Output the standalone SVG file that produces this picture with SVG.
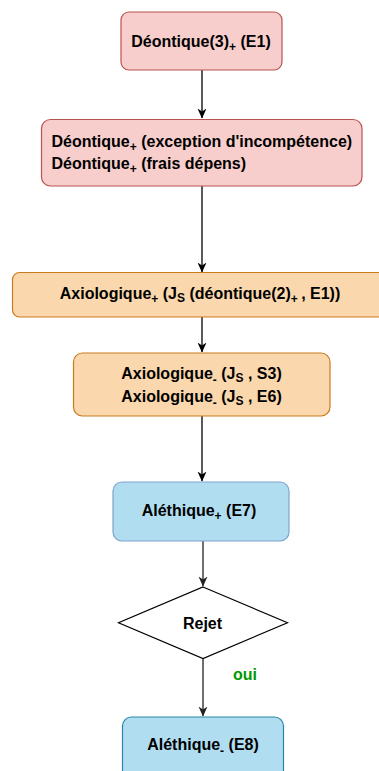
<svg xmlns="http://www.w3.org/2000/svg" width="379" height="771" viewBox="0 0 379 771">
<defs>
<marker id="arrk" viewBox="0 0 10 10" refX="9.5" refY="5" markerWidth="10" markerHeight="10" markerUnits="userSpaceOnUse" orient="auto">
<path d="M0,0.5 L10,5 L0,9.5 L3,5 z" fill="#000"/>
</marker>
<marker id="arrg" viewBox="0 0 10 10" refX="9.5" refY="5" markerWidth="10" markerHeight="10" markerUnits="userSpaceOnUse" orient="auto">
<path d="M0,0.5 L10,5 L0,9.5 L3,5 z" fill="#222"/>
</marker>
</defs>
<style>
text{font-family:"Liberation Sans",Arial,Helvetica,sans-serif;font-weight:bold;font-size:16px;fill:#000}
.sub{font-size:12px}
.red{fill:#f8cecc;stroke:#b85450;stroke-width:1.2}
.orange{fill:#fad7ac;stroke:#c87c1d;stroke-width:1.2}
.blue1{fill:#b1ddf0;stroke:#7ea3d0;stroke-width:1.2}
.blue2{fill:#b1ddf0;stroke:#2a83a8;stroke-width:1.2}
.dia{fill:#fff;stroke:#000;stroke-width:1.2}
.c{stroke:#000;stroke-width:1.3;fill:none;marker-end:url(#arrk)}
.c2{stroke:#222;stroke-width:1.3;fill:none;marker-end:url(#arrg)}
</style>
<g id="connectors">
<path class="c" d="M202,70 V118"/>
<path class="c" d="M202,186 V272"/>
<path class="c" d="M202,317 V352"/>
<path class="c" d="M202,416 V481"/>
<path class="c2" d="M203,541 V586"/>
<path class="c2" d="M203,658.5 V716"/>
</g>
<g id="n1">
<rect class="red" x="121" y="12" width="161" height="58" rx="8"/>
<text x="201" y="46.5" text-anchor="middle">Déontique(3)<tspan class="sub" dy="4">+</tspan><tspan dy="-4">  (E1)</tspan></text>
</g>
<g id="n2">
<rect class="red" x="41.5" y="119.5" width="320.5" height="66.5" rx="9"/>
<text x="51.5" y="147">Déontique<tspan class="sub" dy="4">+</tspan><tspan dy="-4"> (exception d'incompétence)</tspan></text>
<text x="51.5" y="168.5">Déontique<tspan class="sub" dy="4">+</tspan><tspan dy="-4"> (frais dépens)</tspan></text>
</g>
<g id="n3">
<rect class="orange" x="12.5" y="272.5" width="380" height="44.5" rx="7"/>
<text x="200" y="299" text-anchor="middle">Axiologique<tspan class="sub" dy="4">+</tspan><tspan dy="-4"> (J</tspan><tspan class="sub" dy="3">S</tspan><tspan dy="-3"> (déontique(2)</tspan><tspan class="sub" dy="4">+ </tspan><tspan dy="-4">, E1))</tspan></text>
</g>
<g id="n4">
<rect class="orange" x="73.5" y="353" width="256.5" height="63" rx="9"/>
<text x="201.5" y="379" text-anchor="middle">Axiologique<tspan class="sub" dy="5">-</tspan><tspan dy="-5"> (J</tspan><tspan class="sub" dy="3">S</tspan><tspan dy="-3"> , S3)</tspan></text>
<text x="201.5" y="401.5" text-anchor="middle">Axiologique<tspan class="sub" dy="5">-</tspan><tspan dy="-5"> (J</tspan><tspan class="sub" dy="3">S</tspan><tspan dy="-3"> , E6)</tspan></text>
</g>
<g id="n5">
<rect class="blue1" x="113" y="482" width="176" height="59" rx="9"/>
<text x="199" y="516" text-anchor="middle">Aléthique<tspan class="sub" dy="4">+</tspan><tspan dy="-4"> (E7)</tspan></text>
</g>
<g id="n6">
<path class="dia" d="M203,587 L287.5,622.8 L203,658.5 L118.5,622.8 Z"/>
<text x="202.5" y="629" text-anchor="middle">Rejet</text>
</g>
<text x="233" y="680" style="fill:#009900">oui</text>
<g id="n7">
<rect class="blue2" x="122.5" y="717" width="161" height="70" rx="9"/>
<text x="203" y="750" text-anchor="middle">Aléthique<tspan class="sub" dy="5">-</tspan><tspan dy="-5"> (E8)</tspan></text>
</g>
</svg>
